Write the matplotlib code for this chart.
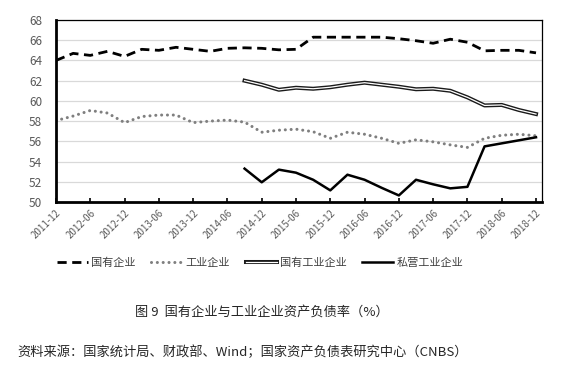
import numpy as np
import matplotlib.pyplot as plt
import matplotlib.patheffects as pe

plt.rcParams['font.family'] = ['Noto Sans CJK SC', 'DejaVu Sans']

# quarterly points, 2011-12 .. 2018-12
quarters = ['2011-12', '2012-03', '2012-06', '2012-09', '2012-12', '2013-03', '2013-06',
            '2013-09', '2013-12', '2014-03', '2014-06', '2014-09', '2014-12', '2015-03',
            '2015-06', '2015-09', '2015-12', '2016-03', '2016-06', '2016-09', '2016-12',
            '2017-03', '2017-06', '2017-09', '2017-12', '2018-03', '2018-06', '2018-09',
            '2018-12']

soe = [64.0, 64.7, 64.5, 64.9, 64.4, 65.1, 65.0, 65.3, 65.1, 64.9, 65.2, 65.25, 65.2, 65.05,
       65.1, 66.3, 66.3, 66.3, 66.3, 66.3, 66.15, 65.95, 65.7, 66.1, 65.8, 64.95, 65.0, 65.0,
       64.75]
industrial = [58.05, 58.5, 59.05, 58.8, 57.85, 58.45, 58.6, 58.6, 57.85, 58.0, 58.1, 57.9,
              56.9, 57.1, 57.2, 56.95, 56.3, 56.9, 56.7, 56.3, 55.8, 56.15, 55.95, 55.65,
              55.4, 56.3, 56.6, 56.7, 56.55]
# these two start at 2014-09
soe_ind = [62.0, 61.6, 61.1, 61.3, 61.2, 61.35, 61.6, 61.8, 61.6, 61.4, 61.15, 61.2, 61.0,
           60.35, 59.55, 59.6, 59.1, 58.7]
private_ind = [53.3, 51.95, 53.2, 52.9, 52.2, 51.15, 52.7, 52.2, 51.4, 50.65, 52.2, 51.75,
               51.35, 51.5, 55.5, 55.8, 56.1, 56.4]

x = np.arange(len(quarters))
x2 = x[len(quarters) - len(soe_ind):]

fig = plt.figure(figsize=(5.87, 3.65), dpi=100)
ax = fig.add_axes([56/587, 1-202/365, 486/587, 182/365])

ax.plot(x, soe, color='black', lw=2, dashes=(3.3, 2), label='国有企业')
ax.plot(x, industrial, color='#7f7f7f', lw=2.2, linestyle=(0, (0.01, 1.9)),
        dash_capstyle='round', label='工业企业')
ax.plot(x2, soe_ind, color='white', lw=0.9, label='国有工业企业',
        path_effects=[pe.Stroke(linewidth=2.9, foreground='#1a1a1a'), pe.Normal()])
ax.plot(x2, private_ind, color='black', lw=1.8, label='私营工业企业')

ax.set_xlim(0, 28.35)
ax.set_ylim(50, 68)
ax.set_yticks(range(50, 69, 2))
ax.set_xticks(x[::2])
ax.set_xticklabels(quarters[::2], rotation=45, ha='right', va='top',
                   rotation_mode='anchor', fontsize=7, color='#595959')
ax.tick_params(axis='x', direction='in', length=3, width=1.2, pad=4)
ax.tick_params(axis='y', length=0, pad=10, labelsize=8.5, labelcolor='#595959')
ax.grid(axis='y', color='#d9d9d9', lw=0.9)
ax.set_axisbelow(True)
for s in ['left', 'bottom']:
    ax.spines[s].set_linewidth(2)
for s in ['top', 'right']:
    ax.spines[s].set_linewidth(0.9)

fig.legend(loc='center', bbox_to_anchor=(260/587, 1-263/365), ncol=4, frameon=False,
           fontsize=8, handlelength=2.8, handletextpad=0.3, columnspacing=1.4,
           labelcolor='#404040')

fig.text(262/587, 1-312/365, '图 9  国有企业与工业企业资产负债率（%）', ha='center', va='center',
         fontsize=9.5, color='#262626')
fig.text(17/587, 1-352/365, '资料来源：国家统计局、财政部、Wind；国家资产负债表研究中心（CNBS）',
         ha='left', va='center', fontsize=9.5, color='#262626')

fig.savefig('out.png', dpi=100)
